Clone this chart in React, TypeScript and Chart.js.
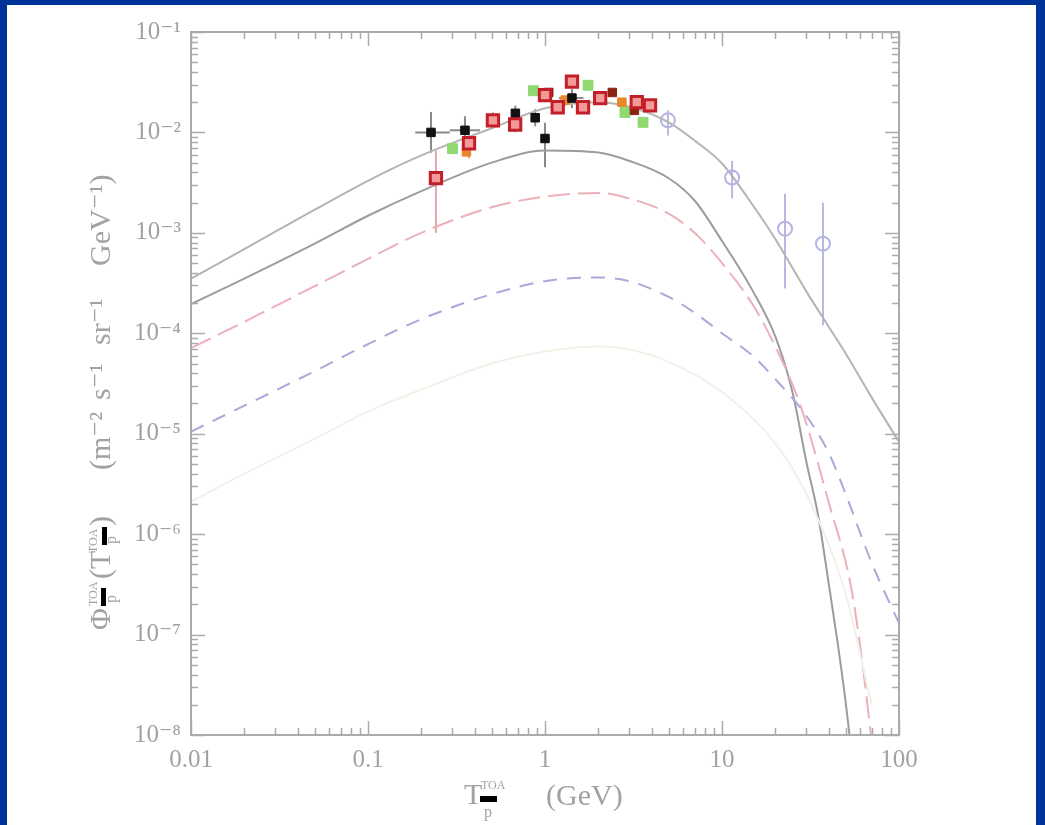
import React, { useEffect, useRef } from "react";
import { Chart, registerables } from "chart.js";

Chart.register(...registerables);

const W = 1045;
const H = 825;
const SERIF = "'Liberation Serif', 'DejaVu Serif', serif";
const TEXT_GRAY = "#a2a2a2";

// ---- tick labels ----
const xTickValues = [0.01, 0.1, 1, 10, 100];
const xTickLabels = ["0.01", "0.1", "1", "10", "100"];
const yTickValues = [1e-8, 1e-7, 1e-6, 1e-5, 1e-4, 1e-3, 1e-2, 1e-1];
const yTickLabels = ["10⁻⁸", "10⁻⁷", "10⁻⁶", "10⁻⁵", "10⁻⁴", "10⁻³", "10⁻²", "10⁻¹"];

// ---- model curves ----
const totalE = [0.01, 0.02, 0.05, 0.1, 0.2, 0.5, 1, 2, 3, 5, 7, 10, 15, 20, 30, 40, 50, 70, 100];
const totalFlux = [3.5e-4, 6.9e-4, 1.7e-3, 3.3e-3, 5.9e-3, 1.1e-2, 1.74e-2, 2.0e-2, 1.8e-2, 1.26e-2, 8.3e-3, 4.9e-3, 1.86e-3, 8.7e-4, 2.6e-4, 1.17e-4, 6.3e-5, 2.3e-5, 8.3e-6];

const secE = [0.01, 0.02, 0.05, 0.1, 0.2, 0.5, 1, 2, 3, 5, 7, 10, 15, 20, 25, 30, 35, 40, 45, 50, 55];
const secFlux = [1.95e-4, 3.5e-4, 7.8e-4, 1.48e-3, 2.6e-3, 5.0e-3, 6.6e-3, 6.3e-3, 5.2e-3, 3.5e-3, 2.1e-3, 8.3e-4, 2.6e-4, 9.3e-5, 2.6e-5, 5.2e-6, 1.5e-6, 3.3e-7, 8.3e-8, 2.1e-8, 5e-9];

const redE = [0.01, 0.02, 0.05, 0.1, 0.2, 0.5, 1, 2, 3, 5, 7, 10, 15, 20, 26, 30, 40, 53, 60, 69, 75];
const redFlux = [7.1e-5, 1.3e-4, 2.95e-4, 5.5e-4, 1e-3, 1.8e-3, 2.3e-3, 2.5e-3, 2.2e-3, 1.55e-3, 1e-3, 5e-4, 1.9e-4, 7.4e-5, 2.6e-5, 1.26e-5, 2.1e-6, 3.3e-7, 8.3e-8, 1.1e-8, 3e-9];

const blueE = [0.01, 0.02, 0.05, 0.1, 0.2, 0.5, 1, 2, 3, 5, 7, 10, 15, 20, 30, 40, 50, 70, 100];
const blueFlux = [1.05e-5, 1.9e-5, 4.2e-5, 7.8e-5, 1.38e-4, 2.45e-4, 3.3e-4, 3.6e-4, 3.3e-4, 2.3e-4, 1.6e-4, 1.0e-4, 5.9e-5, 3.5e-5, 1.5e-5, 6.5e-6, 2.5e-6, 5.2e-7, 1.3e-7];

const faintE = [0.01, 0.02, 0.05, 0.1, 0.2, 0.5, 1, 2, 3, 5, 10, 20, 30, 50, 70];
const faintFlux = [2.1e-6, 4e-6, 8.9e-6, 1.66e-5, 2.75e-5, 5e-5, 6.6e-5, 7.4e-5, 6.9e-5, 5.2e-5, 2.6e-5, 8e-6, 2.5e-6, 2.5e-7, 2e-8];

// ---- data points ----
const blackE = [0.227, 0.353, 0.68, 0.88, 1.0, 1.42];
const blackFlux = [1.0e-2, 1.05e-2, 1.55e-2, 1.4e-2, 8.7e-3, 2.2e-2];
const blackLow = [6.3e-3, 7.5e-3, 1.3e-2, 1.15e-2, 4.5e-3, 1.75e-2];
const blackHigh = [1.6e-2, 1.45e-2, 1.85e-2, 1.7e-2, 1.25e-2, 2.7e-2];
const blackELow = [0.185, 0.29, 0.68, 0.88, 1.0, 1.2];
const blackEHigh = [0.29, 0.43, 0.68, 0.88, 1.0, 1.65];

const redPtE = [0.242, 0.372, 0.508, 0.678, 1.0, 1.18, 1.42, 1.64, 2.05, 3.3, 3.92];
const redPtFlux = [3.5e-3, 7.8e-3, 1.32e-2, 1.2e-2, 2.35e-2, 1.78e-2, 3.2e-2, 1.78e-2, 2.2e-2, 2.0e-2, 1.86e-2];
const redPtLow = [1.0e-3, 5.5e-3, 1.1e-2, 1.0e-2, 2.0e-2, 1.55e-2, 2.8e-2, 1.55e-2, 1.95e-2, 1.75e-2, 1.6e-2];
const redPtHigh = [6.6e-3, 1.1e-2, 1.6e-2, 1.45e-2, 2.7e-2, 2.05e-2, 3.6e-2, 2.05e-2, 2.5e-2, 2.3e-2, 2.15e-2];

const greenE = [0.30, 0.86, 1.75, 2.83, 3.58];
const greenFlux = [6.9e-3, 2.6e-2, 2.95e-2, 1.58e-2, 1.26e-2];

const orangeE = [0.36, 0.98, 1.3, 2.72];
const orangeFlux = [6.4e-3, 2.45e-2, 2.1e-2, 2.0e-2];

const brownE = [1.05, 2.4, 3.2];
const brownFlux = [2.5e-2, 2.5e-2, 1.66e-2];

const blueCircE = [4.95, 11.4, 22.7, 37.2];
const blueCircFlux = [1.32e-2, 3.55e-3, 1.1e-3, 7.8e-4];
const blueCircLow = [9.3e-3, 2.2e-3, 2.8e-4, 1.2e-4];
const blueCircHigh = [1.66e-2, 5.2e-3, 2.45e-3, 2.0e-3];

const toPts = (xs: number[], ys: number[]) => xs.map((x, i) => ({ x, y: ys[i] }));

export default function App() {
  const ref = useRef<HTMLCanvasElement>(null);

  useEffect(() => {
    const canvas = ref.current!;

    const errorSets = [
      { x: blackE, lo: blackLow, hi: blackHigh, y: blackFlux, xlo: blackELow, xhi: blackEHigh, color: "#8a8a8a" },
      { x: redPtE, lo: redPtLow, hi: redPtHigh, y: redPtFlux, xlo: null, xhi: null, color: "#e2a6ac" },
      { x: blueCircE, lo: blueCircLow, hi: blueCircHigh, y: blueCircFlux, xlo: null, xhi: null, color: "#b8b8e2" },
    ];

    const decor = {
      id: "decor",
      beforeDraw(chart: any) {
        const ctx = chart.ctx;
        ctx.save();
        ctx.fillStyle = "#003399";
        ctx.fillRect(0, 0, W, H);
        ctx.fillStyle = "#ffffff";
        ctx.fillRect(7, 5, W - 7 - 9, H - 5);
        ctx.restore();
      },
      beforeDatasetsDraw(chart: any) {
        const ctx = chart.ctx;
        const xs = chart.scales.x;
        const ys = chart.scales.y;
        ctx.save();
        ctx.lineWidth = 2;
        for (const s of errorSets) {
          ctx.strokeStyle = s.color;
          s.x.forEach((e: number, i: number) => {
            const px = xs.getPixelForValue(e);
            ctx.beginPath();
            ctx.moveTo(px, ys.getPixelForValue(s.lo[i]));
            ctx.lineTo(px, ys.getPixelForValue(s.hi[i]));
            ctx.stroke();
            if (s.xlo && s.xhi && s.xlo[i] !== s.xhi[i]) {
              const py = ys.getPixelForValue(s.y[i]);
              ctx.beginPath();
              ctx.moveTo(xs.getPixelForValue(s.xlo[i]), py);
              ctx.lineTo(xs.getPixelForValue(s.xhi[i]), py);
              ctx.stroke();
            }
          });
        }
        ctx.restore();
      },
      afterDraw(chart: any) {
        const ctx = chart.ctx;
        const { left, right, top, bottom } = chart.chartArea;
        const xs = chart.scales.x;
        const ys = chart.scales.y;
        ctx.save();
        ctx.strokeStyle = "#ababab";
        ctx.lineWidth = 2;
        ctx.strokeRect(left, top, right - left, bottom - top);
        ctx.lineWidth = 1.5;
        ctx.beginPath();
        for (let k = -2; k <= 2; k++) {
          for (let m = 1; m <= 9; m++) {
            const v = m * Math.pow(10, k);
            if (v > 100.0001) break;
            const px = Math.round(xs.getPixelForValue(v)) + 0.5;
            const len = m === 1 ? 14 : 7;
            ctx.moveTo(px, bottom);
            ctx.lineTo(px, bottom - len);
            ctx.moveTo(px, top);
            ctx.lineTo(px, top + len);
          }
        }
        for (let k = -8; k <= -1; k++) {
          for (let m = 1; m <= 9; m++) {
            const v = m * Math.pow(10, k);
            if (v > 0.10001) break;
            const py = Math.round(ys.getPixelForValue(v)) + 0.5;
            const len = m === 1 ? 14 : 7;
            ctx.moveTo(left, py);
            ctx.lineTo(left + len, py);
            ctx.moveTo(right, py);
            ctx.lineTo(right - len, py);
          }
        }
        ctx.stroke();

        // x title
        ctx.fillStyle = TEXT_GRAY;
        ctx.textAlign = "left";
        ctx.textBaseline = "alphabetic";
        ctx.font = `30px ${SERIF}`;
        ctx.fillText("T", 464, 804);
        ctx.font = `12px ${SERIF}`;
        ctx.fillText("TOA", 481, 789);
        ctx.font = `16px ${SERIF}`;
        ctx.fillText("p", 484, 817);
        ctx.fillStyle = "#000";
        ctx.fillRect(480, 796, 17, 6);
        ctx.fillStyle = TEXT_GRAY;
        ctx.font = `30px ${SERIF}`;
        ctx.fillText("(GeV)", 546, 805);

        // y title (rotated)
        const rot = (text: string, y: number, v: number, size: number) => {
          ctx.save();
          ctx.translate(110 + v, y);
          ctx.rotate(-Math.PI / 2);
          ctx.font = `${size}px ${SERIF}`;
          ctx.fillStyle = TEXT_GRAY;
          ctx.fillText(text, 0, 0);
          ctx.restore();
        };
        rot("Φ", 630, 0, 30);
        rot("TOA", 606, -13, 12);
        rot("p", 603, 6, 16);
        rot("(T", 579, 0, 30);
        rot("TOA", 553, -13, 12);
        rot("p", 544, 6, 16);
        rot(")", 526, 0, 30);
        rot("(m⁻²", 470, 0, 30);
        rot("s⁻¹", 400, 0, 30);
        rot("sr⁻¹", 345, 0, 30);
        rot("GeV⁻¹)", 266, 0, 30);
        ctx.fillStyle = "#000";
        ctx.fillRect(101, 588, 5, 18);
        ctx.fillRect(102, 527, 5, 18);
        ctx.restore();
      },
    };

    const lineDs = (label: string, xs: number[], ys: number[], color: string, dash: number[], width = 2) => ({
      type: "line" as const,
      label,
      data: toPts(xs, ys),
      borderColor: color,
      backgroundColor: color,
      borderWidth: width,
      borderDash: dash,
      pointRadius: 0,
      showLine: true,
      fill: false,
      cubicInterpolationMode: "monotone" as const,
      order: 10,
    });

    const chart = new Chart(canvas, {
      type: "scatter",
      data: {
        datasets: [
          lineDs("faint", faintE, faintFlux, "#f2f0e8", []),
          lineDs("blue dashed", blueE, blueFlux, "#a9a9d9", [14, 10]),
          lineDs("red dashed", redE, redFlux, "#ebb0b8", [22, 8]),
          lineDs("secondary", secE, secFlux, "#9c9c9c", []),
          lineDs("total", totalE, totalFlux, "#b4b4b4", []),
          {
            label: "blue circles",
            data: toPts(blueCircE, blueCircFlux),
            pointStyle: "circle",
            pointRadius: 7,
            borderColor: "#b4b4e4",
            backgroundColor: "rgba(255,255,255,0)",
            borderWidth: 2,
            order: 6,
          },
          {
            label: "green",
            data: toPts(greenE, greenFlux),
            pointStyle: "rect",
            pointRadius: 7,
            borderColor: "#92d872",
            backgroundColor: "#92d872",
            borderWidth: 1,
            order: 5,
          },
          {
            label: "orange",
            data: toPts(orangeE, orangeFlux),
            pointStyle: "rect",
            pointRadius: 6,
            borderColor: "#e8882a",
            backgroundColor: "#e8882a",
            borderWidth: 1,
            order: 4,
          },
          {
            label: "black",
            data: toPts(blackE, blackFlux),
            pointStyle: "rect",
            pointRadius: 6,
            borderColor: "#111",
            backgroundColor: "#111",
            borderWidth: 1,
            order: 3,
          },
          {
            label: "brown",
            data: toPts(brownE, brownFlux),
            pointStyle: "rect",
            pointRadius: 6,
            borderColor: "#8a2410",
            backgroundColor: "#8a2410",
            borderWidth: 1,
            order: 2,
          },
          {
            label: "red squares",
            data: toPts(redPtE, redPtFlux),
            pointStyle: "rect",
            pointRadius: 8,
            borderColor: "#c41e28",
            backgroundColor: "#f29a9a",
            borderWidth: 3,
            order: 1,
          },
        ] as any,
      },
      options: {
        responsive: false,
        animation: false,
        devicePixelRatio: 1,
        layout: { padding: { left: 91, right: 146, top: 32, bottom: 45 } },
        plugins: { legend: { display: false }, tooltip: { enabled: false } },
        scales: {
          x: {
            type: "logarithmic",
            position: "bottom",
            min: 0.01,
            max: 100,
            afterBuildTicks: (a: any) => {
              a.ticks = xTickValues.map((v) => ({ value: v }));
            },
            afterFit: (a: any) => {
              a.height = 45;
            },
            grid: { display: false, drawTicks: false },
            border: { display: false },
            ticks: {
              autoSkip: false,
              maxRotation: 0,
              padding: 10,
              color: TEXT_GRAY,
              font: { family: SERIF, size: 25 },
              callback: (_v: any, i: number) => xTickLabels[i],
            },
          },
          y: {
            type: "logarithmic",
            position: "left",
            min: 1e-8,
            max: 1e-1,
            afterBuildTicks: (a: any) => {
              a.ticks = yTickValues.map((v) => ({ value: v }));
            },
            afterFit: (a: any) => {
              a.width = 100;
            },
            grid: { display: false, drawTicks: false },
            border: { display: false },
            ticks: {
              autoSkip: false,
              padding: 10,
              color: TEXT_GRAY,
              font: { family: SERIF, size: 25 },
              callback: (_v: any, i: number) => yTickLabels[i],
            },
          },
        },
      } as any,
      plugins: [decor],
    });

    return () => chart.destroy();
  }, []);

  return (
    <div style={{ position: "fixed", left: 0, top: 0, width: W, height: H }}>
      <canvas ref={ref} width={W} height={H} style={{ display: "block", width: W, height: H }} />
    </div>
  );
}
